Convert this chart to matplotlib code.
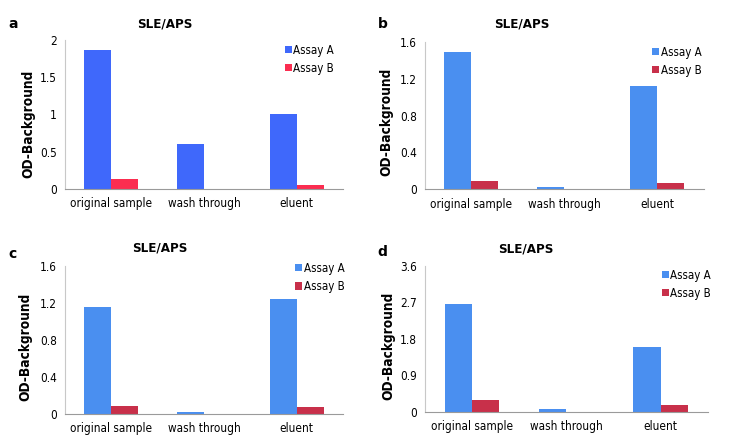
import matplotlib.pyplot as plt
from matplotlib import font_manager as fm
import numpy as np

# pick a narrow font if we have one
names = set(f.name for f in fm.fontManager.ttflist)
if 'Liberation Sans Narrow' in names:
	body = ['Liberation Sans Narrow', 'DejaVu Sans']
	stretch = 'normal'
else:
	body = ['DejaVu Sans']
	stretch = 'condensed'
plt.rcParams['font.family'] = body
plt.rcParams['font.stretch'] = stretch

categories = ['original sample', 'wash through', 'eluent']
series_names = ['Assay A', 'Assay B']

# values
a_assay_a = [1.86, 0.60, 1.01]
a_assay_b = [0.14, 0.0, 0.05]
b_assay_a = [1.485, 0.02, 1.12]
b_assay_b = [0.09, 0.0, 0.068]
c_assay_a = [1.16, 0.015, 1.24]
c_assay_b = [0.083, 0.0, 0.072]
d_assay_a = [2.655, 0.066, 1.60]
d_assay_b = [0.296, 0.0, 0.156]

panel_letters = ['a', 'b', 'c', 'd']
y_ticks = [[0, 0.5, 1, 1.5, 2], [0, 0.4, 0.8, 1.2, 1.6],
           [0, 0.4, 0.8, 1.2, 1.6], [0, 0.9, 1.8, 2.7, 3.6]]
y_ticklabels = [['0', '0.5', '1', '1.5', '2'], ['0', '0.4', '0.8', '1.2', '1.6'],
                ['0', '0.4', '0.8', '1.2', '1.6'], ['0', '0.9', '1.8', '2.7', '3.6']]

colors = [('#3f68fb', '#fb2d50'), ('#4a8ff0', '#c8304a'),
          ('#4a8ff0', '#c8304a'), ('#4a8ff0', '#c8304a')]

# axes rectangles [left, bottom, width, height]
rects = [[0.0883, 0.5753, 0.378, 0.335],
         [0.5774, 0.5746, 0.379, 0.3316],
         [0.0883, 0.0703, 0.378, 0.3313],
         [0.5774, 0.0749, 0.3845, 0.3281]]
legend_anchor = [(0.79, 0.975), (0.814, 0.974), (0.827, 1.03), (0.837, 0.98)]
ylabel_pos = [(-0.108, 0.44), (-0.115, 0.46), (-0.119, 0.45), (-0.106, 0.45)]
letter_pos = [(0.011, 0.946), (0.513, 0.946), (0.011, 0.429), (0.513, 0.434)]
title_pos = [(0.224, 0.946), (0.709, 0.946), (0.217, 0.443), (0.715, 0.44)]

data = [(a_assay_a, a_assay_b), (b_assay_a, b_assay_b),
        (c_assay_a, c_assay_b), (d_assay_a, d_assay_b)]

fig = plt.figure(figsize=(7.36, 4.45), dpi=100)

x = np.arange(len(categories))
w = 0.29

for i in range(4):
	ax = fig.add_axes(rects[i])
	sa, sb = data[i]
	ca, cb = colors[i]
	ax.bar(x - w/2, sa, w, color=ca, label=series_names[0])
	ax.bar(x + w/2, sb, w, color=cb, label=series_names[1])

	ax.set_xlim(-0.5, 2.5)
	ax.set_ylim(0, y_ticks[i][-1])
	ax.set_yticks(y_ticks[i])
	ax.set_yticklabels(y_ticklabels[i])
	ax.set_xticks(x)
	ax.set_xticklabels(categories)
	ax.tick_params(length=0, labelsize=8.5, pad=6)

	for s in ['top', 'right']:
		ax.spines[s].set_visible(False)
	ax.spines['left'].set_color('#c8c8c8')
	ax.spines['bottom'].set_color('#9a9a9a')

	ax.set_ylabel('OD-Background', fontsize=9.8, fontweight='bold')
	ax.yaxis.set_label_coords(*ylabel_pos[i])

	ax.legend(loc='upper left', bbox_to_anchor=legend_anchor[i], frameon=False,
		fontsize=8.3, handlelength=0.6, handleheight=0.6, handletextpad=0.15,
		labelspacing=0.45, borderpad=0, borderaxespad=0)

	fig.text(letter_pos[i][0], letter_pos[i][1], panel_letters[i], va='center',
		fontsize=10, fontweight='bold', family=['DejaVu Sans'], stretch='normal')
	fig.text(title_pos[i][0], title_pos[i][1], 'SLE/APS', ha='center', va='center',
		fontsize=9.5, fontweight='bold')

plt.savefig('out.png', dpi=100)
